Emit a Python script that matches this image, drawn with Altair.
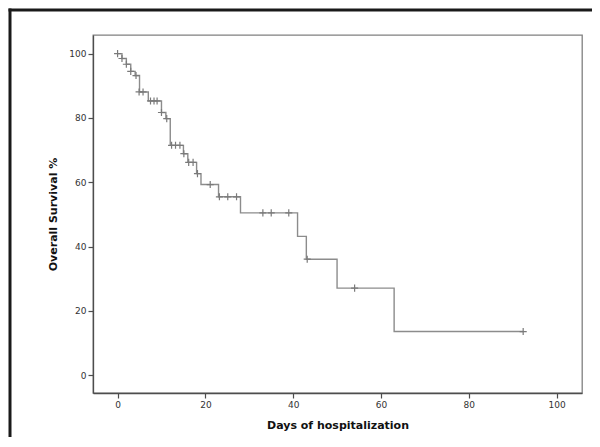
import altair as alt
import pandas as pd

# Kaplan-Meier step curve (time of event, survival after event)
step_days = [0, 1, 2, 3, 4, 5, 7, 10, 11, 12, 15, 16, 18, 19, 23, 28, 41, 43, 50, 63, 92.4]
step_surv = [100, 98.5, 96.7, 94.5, 93.2, 88.1, 85.3, 81.7, 79.8, 71.5, 68.9, 66.2, 62.7,
             59.3, 55.5, 50.5, 43.2, 36.1, 27.1, 13.6, 13.6]

# Censored observations
cens_days = [0, 1, 2, 3, 4.2, 4.9, 5.8, 7.5, 8.3, 9.0, 10, 11.2, 12.3, 13.2, 14.2, 15.1,
             16.2, 17.2, 18.2, 21.1, 23.2, 25.1, 27.1, 33.1, 35, 39, 43.2, 54, 92.4]
cens_surv = [100, 98.5, 96.7, 94.5, 93.2, 88.1, 88.1, 85.3, 85.3, 85.3, 81.7, 79.8, 71.5,
             71.5, 71.5, 68.9, 66.2, 66.2, 62.7, 59.3, 55.5, 55.5, 55.5, 50.5, 50.5, 50.5,
             36.1, 27.1, 13.6]

tick_vals = [0, 20, 40, 60, 80, 100]

curve = pd.DataFrame({"day": step_days, "surv": step_surv})
cens = pd.DataFrame({"day": cens_days, "surv": cens_surv})

W, H = 489, 358
PAD_L, PAD_T, PAD_R, PAD_B = 85, 27, 10, 44
xs = alt.Scale(domain=[-5.6, 105.8], nice=False, zero=False)
ys = alt.Scale(domain=[-5.5, 105.8], nice=False, zero=False)

xaxis = alt.Axis(values=tick_vals, grid=False, title="Days of hospitalization",
                 domainColor="#4d4d4d", domainWidth=1.3, tickColor="#4d4d4d",
                 tickSize=5, tickWidth=1.2, labelFontSize=9, labelColor="#333333",
                 labelFont="DejaVu Sans", labelPadding=2,
                 titleFont="DejaVu Sans", titleFontSize=11, titleFontWeight="bold",
                 titleColor="#111111", titleX=W / 2, titleY=32, titleBaseline="middle",
                 titleAlign="center")
yaxis = alt.Axis(values=tick_vals, grid=False, title="Overall Survival %",
                 domainColor="#4d4d4d", domainWidth=1.3, tickColor="#4d4d4d",
                 tickSize=5, tickWidth=1.2, labelFontSize=9, labelColor="#333333",
                 labelFont="DejaVu Sans", labelPadding=2,
                 titleFont="DejaVu Sans", titleFontSize=11, titleFontWeight="bold",
                 titleColor="#111111", titleX=-40, titleY=H / 2, titleAngle=-90,
                 titleBaseline="middle", titleAlign="center")

line = alt.Chart(curve).mark_line(interpolate="step-after", color="#8c8c8c",
                                  strokeWidth=1.4).encode(
    x=alt.X("day:Q", scale=xs, axis=xaxis),
    y=alt.Y("surv:Q", scale=ys, axis=yaxis),
)

marks = alt.Chart(cens).mark_point(shape="M-1,0L1,0M0,-1L0,1", size=50, filled=False,
                                   color="#7a7a7a", strokeWidth=1.2, opacity=1).encode(
    x=alt.X("day:Q", scale=xs),
    y=alt.Y("surv:Q", scale=ys),
)

one = pd.DataFrame({"a": [1]})
band_top = alt.Chart(one).mark_rect(fill="#1a1a1a", strokeWidth=0).encode(
    x=alt.value(-84.5), x2=alt.value(W + PAD_R), y=alt.value(-26.5), y2=alt.value(-23.5)
)
band_left = alt.Chart(one).mark_rect(fill="#1a1a1a", strokeWidth=0).encode(
    x=alt.value(-84.5), x2=alt.value(-81.5), y=alt.value(-26.5), y2=alt.value(H + PAD_B)
)

chart = alt.layer(band_top, band_left, line, marks).properties(
    width=W, height=H,
    autosize=alt.AutoSizeParams(type="none"),
    padding={"left": PAD_L, "top": PAD_T, "right": PAD_R, "bottom": PAD_B},
    background="white",
).configure_view(stroke="#808080", strokeWidth=1.3)

chart.save("out.html", embed_options={"renderer": "svg", "actions": False})
